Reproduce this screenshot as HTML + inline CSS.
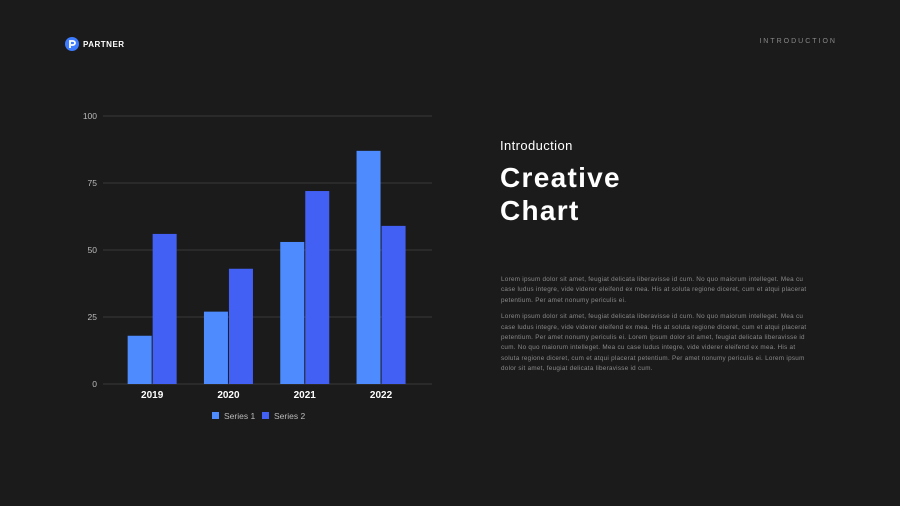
<!DOCTYPE html>
<html><head><meta charset="utf-8"><style>
body{margin:0;width:900px;height:506px;background:#1b1b1b;overflow:hidden;font-family:"Liberation Sans",sans-serif;position:relative}
.abs{position:absolute}
p{margin:0}
</style></head><body>
<div class="abs" style="left:65px;top:37px;display:flex;align-items:center;gap:4px">
<svg width="14" height="14"><circle cx="7" cy="7" r="7" fill="#3d7bff"/><path d="M5 11V4h3a2 2 0 0 1 0 4H6" stroke="#fff" stroke-width="1.8" fill="none"/></svg>
<span style="color:#fff;font-weight:bold;font-size:8px;letter-spacing:0.5px">PARTNER</span></div>
<div class="abs" style="right:63px;top:38px;color:#888;font-size:7px;letter-spacing:2px">INTRODUCTION</div>
<svg class="abs" style="left:0;top:0" width="900" height="506" id="chart"></svg>
<div class="abs" style="left:500px;top:138px;color:#fff;font-size:13px;letter-spacing:0.4px">Introduction</div>
<div class="abs" style="left:500px;top:161px;color:#fff;font-size:28px;font-weight:900;line-height:33px;letter-spacing:1.3px">Creative<br>Chart</div>
<div class="abs" style="left:501px;top:275px;width:312px;color:#8a8a8a;font-size:6.3px;line-height:10.4px;letter-spacing:0.28px">
<p>Lorem ipsum dolor sit amet, feugiat delicata liberavisse id cum. No quo maiorum intelleget. Mea cu case ludus integre, vide viderer eleifend ex mea. His at soluta regione diceret, cum et atqui placerat petentium. Per amet nonumy periculis ei.</p>
<p style="margin-top:6px">Lorem ipsum dolor sit amet, feugiat delicata liberavisse id cum. No quo maiorum intelleget. Mea cu case ludus integre, vide viderer eleifend ex mea. His at soluta regione diceret, cum et atqui placerat petentium. Per amet nonumy periculis ei. Lorem ipsum dolor sit amet, feugiat delicata liberavisse id cum. No quo maiorum intelleget. Mea cu case ludus integre, vide viderer eleifend ex mea. His at soluta regione diceret, cum et atqui placerat petentium. Per amet nonumy periculis ei. Lorem ipsum dolor sit amet, feugiat delicata liberavisse id cum.</p></div>
<script>
const categories=["2019","2020","2021","2022"];
const series1=[18,27,53,87];
const series2=[56,43,72,59];
const yTicks=[0,25,50,75,100];
const seriesNames=["Series 1","Series 2"];
const NS="http://www.w3.org/2000/svg";
const svg=document.getElementById('chart');
const y=v=>384-v*2.68;
const x0=114,bw=76.3;
const x=i=>x0+i*bw;
function mk(t,a,txt){const e=document.createElementNS(NS,t);for(const k in a)e.setAttribute(k,a[k]);if(txt!=null)e.textContent=txt;svg.appendChild(e);return e;}
yTicks.forEach(t=>{
const g=mk('line',{x1:103,x2:432,y1:y(t),y2:y(t),stroke:'#3a3a3a','stroke-width':1});


const l=mk('text',{x:97,y:y(t)+3,'text-anchor':'end',fill:'#bbb','font-size':8.5,'font-family':'Liberation Sans'},t);


});
categories.forEach((c,i)=>{
const cx=x(i)+bw/2;
const b1=mk('rect',{x:cx-24.5,y:y(series1[i]),width:24,height:y(0)-y(series1[i]),fill:'#4d8bff'});


const b2=mk('rect',{x:cx+0.5,y:y(series2[i]),width:24,height:y(0)-y(series2[i]),fill:'#4360f5'});


const l=mk('text',{x:cx,y:398,'text-anchor':'middle',fill:'#fff','font-size':10,'font-weight':'bold','font-family':'Liberation Sans'},c);


});
[[212,'#4d8bff'],[262,'#4360f5']].forEach((p,i)=>{
const r=mk('rect',{x:p[0],y:412,width:7,height:7,fill:p[1]});


const t=mk('text',{x:p[0]+12,y:419,fill:'#bbb','font-size':8.5,'font-family':'Liberation Sans'},seriesNames[i]);


});
</script>
</body></html>
